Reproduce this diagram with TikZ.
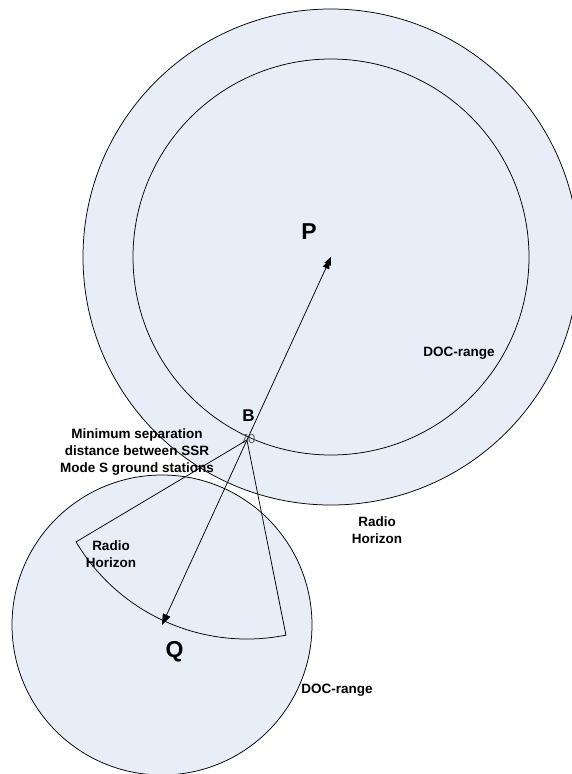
\documentclass[tikz,border=0pt]{standalone}
\usepackage{fontspec}
\setmainfont{Liberation Sans}
\usetikzlibrary{arrows.meta,calc}
\definecolor{docfill}{RGB}{232,238,248}
\definecolor{anglegray}{RGB}{95,95,95}
\begin{document}
\begin{tikzpicture}[x=1pt,y=1pt,
  ring/.style={draw=black,line width=0.75pt,fill=docfill},
  edge/.style={draw=black,line width=0.75pt},
  lbl/.style={font=\bfseries\fontsize{13.5}{17.3}\selectfont,align=center,inner sep=0pt},
  big/.style={font=\bfseries\fontsize{23}{26}\selectfont,inner sep=0pt}]
\useasboundingbox (0,0) rectangle (571,-774);
\coordinate (P) at (331,-257);
\coordinate (Q) at (162,-625);
\coordinate (B) at ($(P)!0.4973!(Q)$);
\coordinate (SL) at ($(B)+(210.8:199pt)$);
\coordinate (SR) at ($(B)+(281.3:199pt)$);
% circles
\draw[ring] (P) circle[radius=248pt];
\draw[ring] (P) circle[radius=198pt];
\draw[ring] (Q) circle[radius=150pt];
% angle text
\node[font=\fontsize{13}{15}\selectfont,text=anglegray,inner sep=0pt] (ang) at (248,-439) {70};
% sector
\draw[edge] (SL) -- (B) -- (SR) arc[start angle=281.3,end angle=210.8,radius=199pt] -- cycle;
% arrow
\draw[edge,{Triangle[length=11pt,width=8pt]}-{Triangle[length=8pt,width=7pt,sep=-4pt]Triangle[length=8pt,width=7pt]}] (Q) -- (P);
% labels
\node[big] (Plbl) at (309,-232) {P};
\node[big] (Qlbl) at (174.5,-652) {Q};
\node[font=\bfseries\fontsize{17}{20}\selectfont,inner sep=0pt] (Blbl) at (248.5,-416) {B};
\node[lbl] (minsep) at (137,-452) {Minimum separation\\distance between SSR\\Mode S ground stations};
\node[lbl] (rh1) at (377,-530) {Radio\\Horizon};
\node[lbl] (rh2) at (111,-554.5) {Radio\\Horizon};
\node[lbl] (doc1) at (459,-353) {DOC-range};
\node[lbl] (doc2) at (337,-690) {DOC-range};
\end{tikzpicture}
\end{document}
